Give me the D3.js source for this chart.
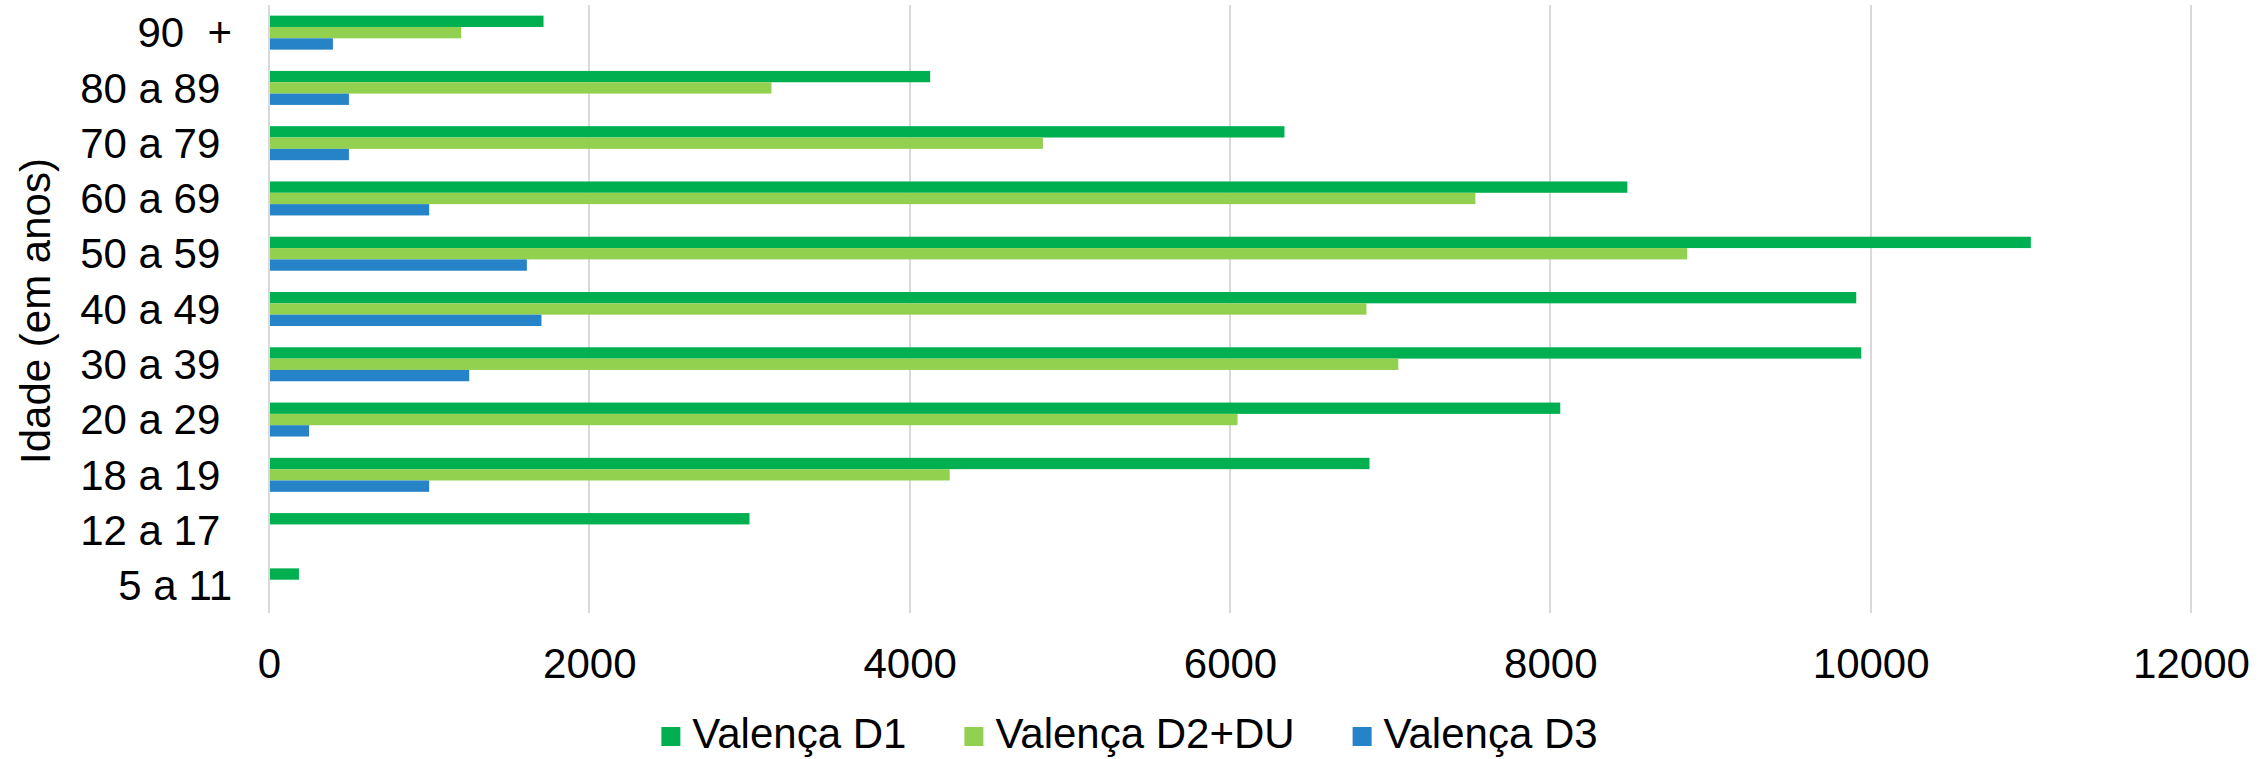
<!DOCTYPE html>
<html>
<head>
<meta charset="utf-8">
<style>
  body {
    margin: 0;
    background: #ffffff;
  }
  svg text {
    font-family: "Liberation Sans", Arial, sans-serif;
    fill: #000000;
  }
  .grid line {
    stroke: #d9d9d9;
    stroke-width: 2;
    shape-rendering: crispEdges;
  }
</style>
</head>
<body>
<script src="https://cdn.jsdelivr.net/npm/d3@7"></script>
<script>
// labels keep the trailing space the source sheet has on most rows
var categories = ["90  +", "80 a 89 ", "70 a 79 ", "60 a 69 ", "50 a 59 ", "40 a 49 ", "30 a 39 ", "20 a 29 ", "18 a 19 ", "12 a 17 ", "5 a 11"];
var seriesNames = ["Valença D1", "Valença D2+DU", "Valença D3"];
var valencaD1 = [1714, 4128, 6340, 8481, 11000, 9910, 9941, 8062, 6871, 3000, 187];
var valencaD2 = [1200, 3137, 4832, 7532, 8855, 6852, 7051, 6047, 4250, 0, 0];
var valencaD3 = [399, 499, 499, 1000, 1610, 1701, 1250, 250, 1000, 0, 0];
var xTicks = [0, 2000, 4000, 6000, 8000, 10000, 12000];
var colors = ["#00b050", "#92d050", "#2783c7"];

var W = 2259, H = 759;
var margin = {top: 5, right: 68, bottom: 146, left: 269};
var width = W - margin.left - margin.right,
    height = H - margin.top - margin.bottom;

var svg = d3.select("body").append("svg")
    .attr("width", W)
    .attr("height", H);

var g = svg.append("g")
    .attr("transform", "translate(" + margin.left + "," + margin.top + ")");

var x = d3.scaleLinear()
    .domain([0, 12000])
    .range([0, width]);

var y = d3.scaleBand()
    .domain(categories)
    .range([0, height])
    .paddingInner(0.385)
    .paddingOuter(0.1925);

var ySub = d3.scaleBand()
    .domain(seriesNames)
    .range([0, y.bandwidth()]);

var color = d3.scaleOrdinal()
    .domain(seriesNames)
    .range(colors);

var rows = categories.map(function(c, i) {
  return {cat: c, values: [valencaD1[i], valencaD2[i], valencaD3[i]]};
});

// gridlines
g.append("g")
    .attr("class", "grid")
    .selectAll("line")
    .data(xTicks.slice(1))
    .enter().append("line")
    .attr("x1", function(d) { return x(d); })
    .attr("x2", function(d) { return x(d); })
    .attr("y1", 0)
    .attr("y2", height);

// bars
var group = g.selectAll(".row")
    .data(rows)
    .enter().append("g")
    .attr("class", "row")
    .attr("transform", function(d) { return "translate(0," + y(d.cat) + ")"; });

group.selectAll("rect")
    .data(function(d) { return d.values.map(function(v, i) { return {name: seriesNames[i], value: v}; }); })
    .enter().append("rect")
    .attr("x", x(0))
    .attr("y", function(d) { return ySub(d.name); })
    .attr("width", function(d) { return x(d.value) - x(0); })
    .attr("height", ySub.bandwidth())
    .attr("fill", function(d) { return color(d.name); });

// vertical axis line
g.append("line")
    .attr("x1", x(0)).attr("x2", x(0))
    .attr("y1", 0).attr("y2", height)
    .attr("stroke", "#d9d9d9")
    .attr("stroke-width", 2)
    .style("shape-rendering", "crispEdges");

// x axis labels
var xAxis = d3.axisBottom(x)
    .tickValues(xTicks)
    .tickSize(0)
    .tickPadding(0)
    .tickFormat(d3.format("d"));

var xa = g.append("g")
    .attr("transform", "translate(0," + height + ")")
    .call(xAxis);
xa.select(".domain").remove();
xa.selectAll("text")
    .attr("y", 65)
    .attr("dy", null)
    .style("font-size", "42px");

// y axis labels
var yAxis = d3.axisLeft(y)
    .tickSize(0)
    .tickPadding(37);

var ya = g.append("g").call(yAxis);
ya.select(".domain").remove();
ya.selectAll("text")
    .attr("dy", "0.35em")
    .attr("xml:space", "preserve")
    .style("white-space", "pre")
    .style("font-size", "42px");

// y axis title
svg.append("text")
    .attr("transform", "translate(50," + (margin.top + height / 2 + 2) + ") rotate(-90)")
    .attr("text-anchor", "middle")
    .style("font-size", "42px")
    .text("Idade (em anos)");

// legend
var legend = svg.append("g").attr("class", "legend");
var lx = 0;
seriesNames.forEach(function(name, i) {
  var item = legend.append("g").attr("transform", "translate(" + lx + ",0)");
  item.append("rect")
      .attr("x", 0).attr("y", 727)
      .attr("width", 19).attr("height", 19)
      .attr("fill", color(name));
  var t = item.append("text")
      .attr("x", 31).attr("y", 748)
      .style("font-size", "42px")
      .text(name);
  lx += 31 + t.node().getComputedTextLength() + 58;
});
var legendW = lx - 58;
legend.attr("transform", "translate(" + (W / 2 - legendW / 2) + ",0)");
</script>
</body>
</html>
